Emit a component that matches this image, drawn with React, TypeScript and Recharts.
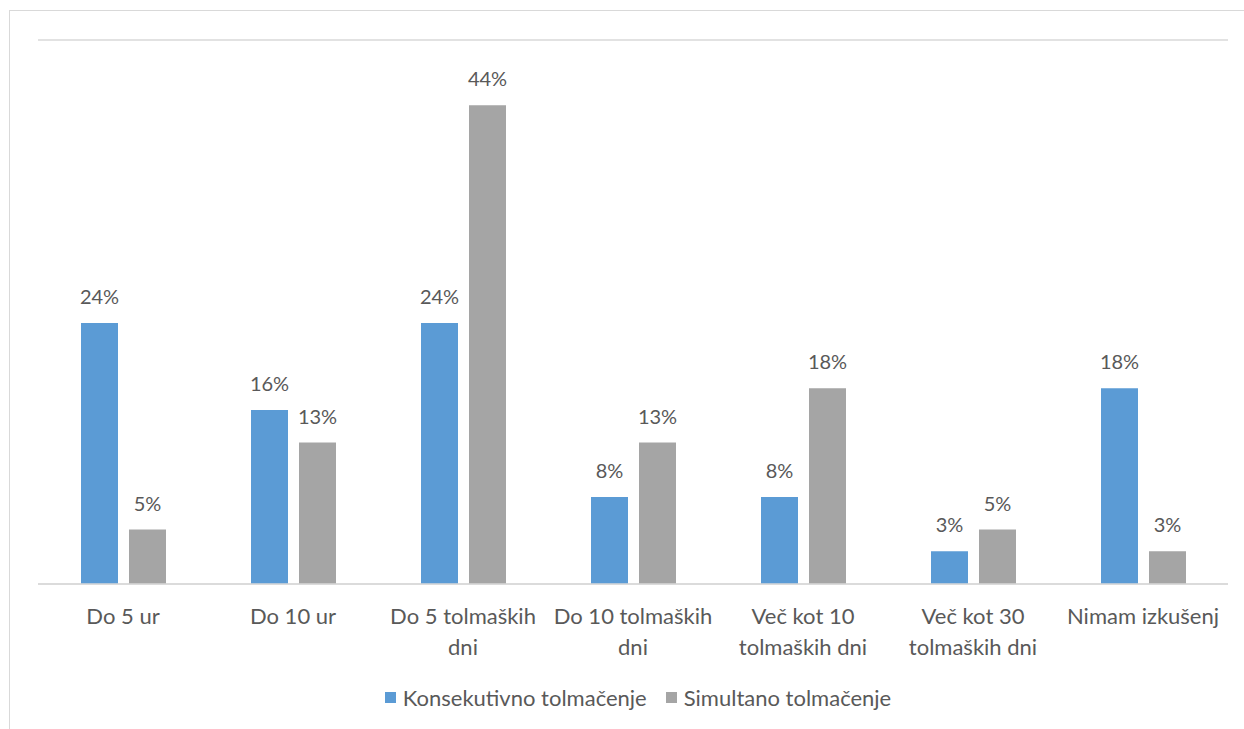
import React from 'react';
import {
  BarChart,
  Bar,
  XAxis,
  YAxis,
  CartesianGrid,
  LabelList,
  Legend,
} from 'recharts';

const categories = [
  'Do 5 ur',
  'Do 10 ur',
  'Do 5 tolmaških dni',
  'Do 10 tolmaških dni',
  'Več kot 10 tolmaških dni',
  'Več kot 30 tolmaških dni',
  'Nimam izkušenj',
];
const konsekutivno = [24, 16, 24, 8, 8, 3, 18];
const simultano = [5, 13, 44, 13, 18, 5, 3];
const yTicks = [0, 5, 10, 15, 20, 25, 30, 35, 40, 45, 50];

const seriesNames = ['Konsekutivno tolmačenje', 'Simultano tolmačenje'];
const BLUE = '#5B9BD5';
const GREY = '#A5A5A5';
const TEXT = '#595959';
const GRID = '#D9D9D9';
const FONT = 'Lato, "Open Sans", sans-serif';

const chartData = categories.map((name, i) => ({
  name,
  kons: konsekutivno[i],
  sim: simultano[i],
}));

// greedy word wrap, measured with a canvas in the tick font
let ctx: CanvasRenderingContext2D | null = null;
const wrapWords = (label: string, maxWidth: number, font: string) => {
  if (!ctx) ctx = document.createElement('canvas').getContext('2d');
  if (!ctx) return [label];
  ctx.font = font;
  const lines: string[] = [];
  let current = '';
  for (const word of label.split(' ')) {
    const next = current ? `${current} ${word}` : word;
    if (current && ctx.measureText(next).width > maxWidth) {
      lines.push(current);
      current = word;
    } else {
      current = next;
    }
  }
  if (current) lines.push(current);
  return lines;
};

const CategoryTick = ({ x, y, payload }: any) => {
  const lines = wrapWords(payload.value, 165, '22px Lato');
  return (
    <text x={x} y={y + 32} textAnchor="middle" fill={TEXT} fontSize={22} fontFamily={FONT}>
      {lines.map((line, i) => (
        <tspan key={i} x={x} dy={i ? 31 : 0}>
          {line}
        </tspan>
      ))}
    </text>
  );
};

const LegendContent = ({ payload }: any) => (
  <div
    style={{
      display: 'flex',
      justifyContent: 'center',
      alignItems: 'center',
      fontFamily: FONT,
      fontSize: 22,
      color: TEXT,
    }}
  >
    {(payload || []).map((item: any, i: number) => (
      <div key={i} style={{ display: 'flex', alignItems: 'center', marginLeft: i ? 19 : 0 }}>
        <span
          style={{ width: 11, height: 11, background: item.color, marginRight: 7, display: 'inline-block' }}
        />
        <span>{item.value}</span>
      </div>
    ))}
  </div>
);

const valueLabel = (key: string) => (
  <LabelList
    dataKey={key}
    position="top"
    offset={19}
    formatter={(v: any) => `${v}%`}
    fill={TEXT}
    fontSize={20}
    fontFamily={FONT}
  />
);

const App = () => {
  return (
    <div
      style={{
        position: 'absolute',
        left: 0,
        top: 0,
        width: 1244,
        height: 729,
        overflow: 'hidden',
        background: '#fff',
      }}
    >
      <div
        style={{
          position: 'absolute',
          left: 9,
          top: 10,
          width: 1400,
          height: 900,
          border: `1px solid ${GRID}`,
        }}
      />
      <div style={{ position: 'absolute', left: 0, top: 0 }}>
        <BarChart
          width={1244}
          height={729}
          data={chartData}
          margin={{ top: 40, right: 16, bottom: 85, left: 38 }}
          barSize={37}
          barGap={11}
        >
          <CartesianGrid vertical={false} stroke={GRID} strokeWidth={1.5} />
          <YAxis
            width={0}
            domain={[0, 50]}
            ticks={yTicks}
            tick={false}
            axisLine={false}
            tickLine={false}
          />
          <XAxis
            dataKey="name"
            height={60}
            axisLine={{ stroke: GRID, strokeWidth: 1.5 }}
            tickLine={false}
            interval={0}
            tick={<CategoryTick />}
          />
          <Legend
            layout="horizontal"
            verticalAlign="middle"
            align="center"
            wrapperStyle={{ top: 684, left: 16, width: 1244 }}
            content={<LegendContent />}
          />
          <Bar dataKey="kons" name={seriesNames[0]} fill={BLUE} isAnimationActive={false}>
            {valueLabel('kons')}
          </Bar>
          <Bar dataKey="sim" name={seriesNames[1]} fill={GREY} isAnimationActive={false}>
            {valueLabel('sim')}
          </Bar>
        </BarChart>
      </div>
    </div>
  );
};

export default App;
